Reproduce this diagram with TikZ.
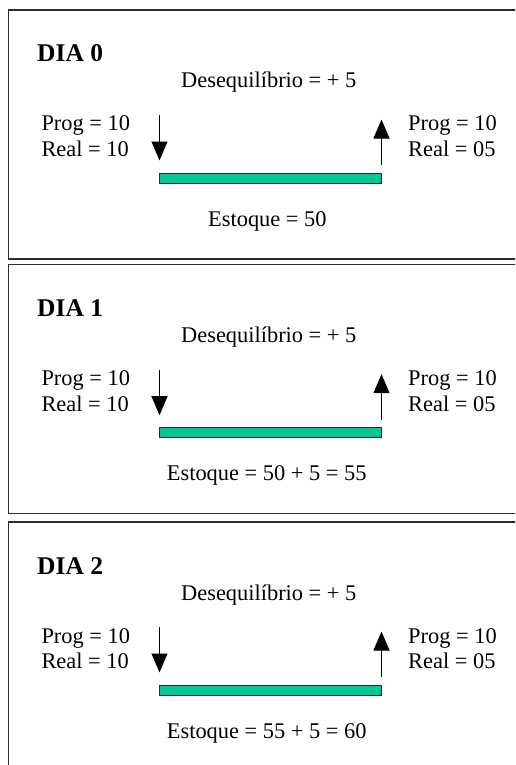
\documentclass[tikz,border=0pt]{standalone}
\usepackage{fontspec}
\setmainfont{Liberation Serif}
\usetikzlibrary{arrows.meta}
\definecolor{barfill}{RGB}{0,200,150}
\definecolor{framecol}{RGB}{45,45,45}
\begin{document}
\begin{tikzpicture}[x=1pt,y=-1pt,
  frame/.style={draw=framecol,line width=1.3pt},
  txt/.style={inner sep=0pt,font=\fontsize{22.4}{26}\selectfont,anchor=base west},
  title/.style={inner sep=0pt,font=\fontsize{25.5}{30}\selectfont\bfseries,anchor=base west},
  bar/.style={draw=framecol,fill=barfill,line width=1pt,minimum width=222pt,minimum height=10pt,inner sep=0pt},
  flow/.style={line width=1pt,-{Triangle[length=19pt,width=16pt]}}]
\useasboundingbox (0,0) rectangle (515,765);
\clip (0,0) rectangle (515,765);
\foreach \i/\t/\b/\ex/\est in {0/10/259/208/{Estoque = 50},1/264.7/513.3/166.7/{Estoque = 50 + 5 = 55},2/522/800/166.7/{Estoque = 55 + 5 = 60}}{
  \draw[frame] (8.5,\t) rectangle (540,\b);
  \begin{scope}[shift={(0,\t)}]
    \node[title] (dia\i) at (37,52) {DIA \i};
    \node[txt] (des\i) at (181,78) {Desequilíbrio = + 5};
    \node[txt] (pl\i) at (41.3,121) {Prog = 10};
    \node[txt] (rl\i) at (41.3,146.5) {Real = 10};
    \node[txt] (pr\i) at (408,121) {Prog = 10};
    \node[txt] (rr\i) at (408,146.5) {Real = 05};
    \node[bar] (bar\i) at (270.5,168) {};
    \coordinate (ina\i) at (159.5,105);
    \coordinate (inb\i) at (159.5,150.5);
    \coordinate (outa\i) at (381.5,155);
    \coordinate (outb\i) at (381.5,109.5);
    \draw[flow] (ina\i) -- (inb\i);
    \draw[flow] (outa\i) -- (outb\i);
    \node[txt] (est\i) at (\ex,216) {\est};
  \end{scope}
}
\end{tikzpicture}
\end{document}
